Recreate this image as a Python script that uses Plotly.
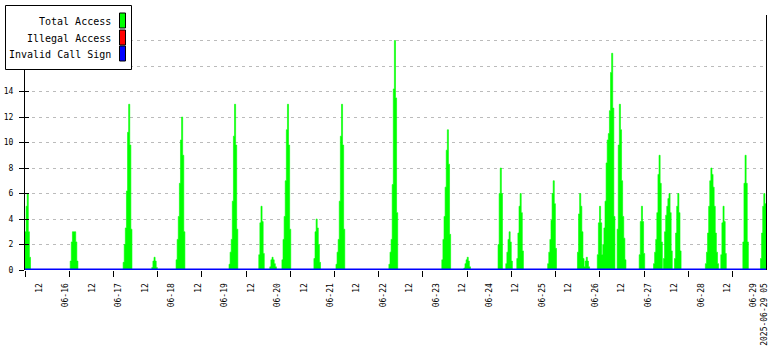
import numpy as np
import pandas as pd
import plotly.graph_objects as go

# ---------------- data ----------------
range_start = "2025-06-15 05:30"
range_end = "2025-06-29 05:30"
sample_freq = "30min"

# start time of each burst of "Total Access" and its half-hourly values
peak_starts = [
    "2025-06-15 05:30", "2025-06-16 02:00", "2025-06-17 02:00", "2025-06-17 15:00",
    "2025-06-18 02:00", "2025-06-19 02:00", "2025-06-19 15:30", "2025-06-19 20:30",
    "2025-06-20 02:00", "2025-06-20 16:30", "2025-06-21 02:30", "2025-06-22 02:30",
    "2025-06-23 02:30", "2025-06-23 12:30", "2025-06-24 04:00", "2025-06-24 07:30",
    "2025-06-24 12:30", "2025-06-25 02:30", "2025-06-25 16:00", "2025-06-25 19:00",
    "2025-06-26 01:00", "2025-06-26 10:00", "2025-06-26 20:00", "2025-06-27 02:30",
    "2025-06-27 07:00", "2025-06-27 12:00", "2025-06-28 02:00", "2025-06-28 09:00",
    "2025-06-28 19:00", "2025-06-29 03:00",
]
peak_values = [
    [3, 5, 6, 3, 1],
    [0.7, 2.2, 3, 3, 3, 2.2, 0.7],
    [0.6, 2, 3.3, 6.2, 10.8, 13, 9.8, 3.2],
    [0.2, 0.7, 1, 0.7, 0.2],
    [0.8, 2.4, 4.2, 6.8, 10.2, 12, 9, 3],
    [0.45, 1.4, 2.4, 5.4, 10.5, 13, 9.8, 3.2],
    [1.2, 3.7, 5, 3.8, 1.3],
    [0.25, 0.8, 1, 0.8, 0.5, 0.25],
    [0.8, 2.4, 4.2, 7, 11, 13, 9.8, 3.2],
    [0.9, 3, 4, 3.3, 2, 0.6],
    [0.45, 1.4, 2.4, 5.4, 10.5, 13, 9.8, 3.2],
    [0.45, 1.4, 2.4, 6.7, 14.2, 18, 13.5, 4.5],
    [0.8, 2.4, 4.2, 6.5, 9.4, 11, 8.3, 2.8],
    [0.15, 0.5, 0.8, 1, 0.7, 0.25],
    [2, 6, 8, 6],
    [0.5, 1.4, 2.4, 3, 2.2, 0.7],
    [0.9, 2.9, 5, 6, 4.5, 1.5],
    [0.5, 1.4, 2.4, 3.9, 6, 7, 5.2, 1.7],
    [1.4, 4.4, 6, 5, 3, 0.9],
    [0.25, 0.7, 1, 0.7, 0.25],
    [1.2, 3.7, 5, 3.7, 1.2, 2, 3.3, 5.4, 8.4, 10.2, 10.7, 12.5, 15.5, 17, 12.7, 4.2],
    [3.2, 9.8, 13, 11, 7, 4.2, 2.5, 0.8],
    [1.2, 3.8, 5, 3.8, 1.3],
    [0.5, 1.4, 2.4, 4.5, 7.5, 9, 6.8, 2.2],
    [0.9, 3, 4.3, 5, 5.6, 6, 4.5, 1.5],
    [0.9, 2.9, 5, 6, 4.5, 1.5],
    [0.5, 1.4, 2.9, 5, 7, 8, 7.5, 6.5, 5, 2.9, 1.4, 0.5],
    [1.2, 3.7, 5, 3.8, 1.3],
    [2.2, 6.8, 9, 6.8, 2.2],
    [0.9, 2.9, 5, 6, 5.2, 3.7],
]

# x tick labels
x_label_times = list(pd.date_range("2025-06-15 12:00", periods=28, freq="12h")) + [
    pd.Timestamp("2025-06-29 05:00")]
x_label_text = [
    "12", "06-16", "12", "06-17", "12", "06-18", "12", "06-19", "12", "06-20",
    "12", "06-21", "12", "06-22", "12", "06-23", "12", "06-24", "12", "06-25",
    "12", "06-26", "12", "06-27", "12", "06-28", "12", "06-29", "2025-06-29 05",
]
y_tick_vals = [0, 2, 4, 6, 8, 10, 12, 14, 16, 18, 20]
y_tick_text = ["0", "2", "4", "6", "8", "10", "12", "14", "", "", ""]

legend_names = ["Total Access", "Illegal Access", "Invalid Call Sign"]
legend_colors = ["#00FF00", "#FF0000", "#0000FF"]

# ---------------- build series ----------------
times = pd.date_range(range_start, range_end, freq=sample_freq)
total_access = np.zeros(len(times))
for start, vals in zip(peak_starts, peak_values):
    i = times.get_loc(pd.Timestamp(start))
    n = min(len(vals), len(times) - i)
    total_access[i:i + n] = vals[:n]
illegal_access = np.zeros(len(times))
invalid_call_sign = np.zeros(len(times))

# ---------------- layout geometry ----------------
W, H = 780, 350
L, R, T, B = 25, 766, 15, 270


def px_x(px):
    return (px - L) / (R - L)


def px_y(py):
    return (B - py) / (B - T)


mark_step = pd.Timedelta(hours=20.05)
x_marks = [pd.Timestamp(range_start) + k * mark_step for k in range(17)]

mono = "DejaVu Sans Mono"

fig = go.Figure()
fig.add_trace(go.Scatter(
    x=times, y=total_access, mode="lines", line=dict(shape="hv", color="#00FF00", width=0.6),
    fill="tozeroy", fillcolor="#00FF00", name=legend_names[0], xaxis="x", yaxis="y",
    showlegend=False, hoverinfo="skip"))
fig.add_trace(go.Scatter(
    x=times, y=illegal_access, mode="lines", line=dict(color="#FF0000", width=1),
    name=legend_names[1], xaxis="x2", yaxis="y2", showlegend=False, hoverinfo="skip"))
fig.add_trace(go.Scatter(
    x=times, y=invalid_call_sign, mode="lines", line=dict(color="#0000FF", width=3),
    name=legend_names[2], xaxis="x2", yaxis="y2", showlegend=False, hoverinfo="skip"))

fig.update_layout(
    width=W, height=H, autosize=False,
    margin=dict(l=L, r=W - R, t=T, b=H - B, pad=0),
    paper_bgcolor="white", plot_bgcolor="white",
    showlegend=False,
    xaxis=dict(
        type="date", range=[range_start, range_end], tickmode="array", tickvals=x_marks,
        showticklabels=False, ticks="outside", ticklen=6, tickwidth=1, tickcolor="black",
        showgrid=False, zeroline=False, showline=False, automargin=False),
    xaxis2=dict(
        type="date", range=[range_start, range_end], overlaying="x", anchor="y", side="bottom",
        tickmode="array", tickvals=x_label_times, ticktext=x_label_text, tickangle=-90,
        ticks="outside", ticklen=9, tickcolor="rgba(0,0,0,0)",
        tickfont=dict(family=mono, size=8, color="black"),
        showgrid=False, zeroline=False, showline=False, automargin=False),
    yaxis=dict(
        range=[0, 20], tickmode="array", tickvals=y_tick_vals, ticktext=y_tick_text,
        ticks="outside", ticklen=5, tickwidth=1, tickcolor="black",
        tickfont=dict(family=mono, size=8, color="black"), ticklabelstandoff=4,
        showline=True, linecolor="black", linewidth=1, mirror=True,
        showgrid=True, gridcolor="#BBBBBB", gridwidth=1, griddash="3px,4px",
        zeroline=False, automargin=False),
    yaxis2=dict(
        range=[0, 20], overlaying="y", anchor="x", tickmode="array", tickvals=y_tick_vals,
        ticks="inside", ticklen=4, tickwidth=1, tickcolor="black", showticklabels=False,
        showgrid=False, zeroline=False, showline=False, automargin=False),
)

# legend box drawn like the original (text right-aligned, swatch at right)
shapes = [dict(type="rect", xref="paper", yref="paper", layer="above",
               x0=px_x(5.5), x1=px_x(131.5), y0=px_y(69.5), y1=px_y(5.5),
               line=dict(color="black", width=1), fillcolor="white")]
annotations = []
row_centers = [21, 38, 54]
for name, color, yc in zip(legend_names, legend_colors, row_centers):
    annotations.append(dict(
        text=name, xref="paper", yref="paper", x=px_x(113), y=px_y(yc),
        xanchor="right", yanchor="middle", showarrow=False,
        font=dict(family=mono, size=10, color="black")))
    shapes.append(dict(type="rect", xref="paper", yref="paper", layer="above",
                       x0=px_x(119.5), x1=px_x(125.5), y0=px_y(yc + 7), y1=px_y(yc - 8),
                       line=dict(color="black", width=1), fillcolor=color))
fig.update_layout(shapes=shapes, annotations=annotations)

fig.write_html("out.html")
